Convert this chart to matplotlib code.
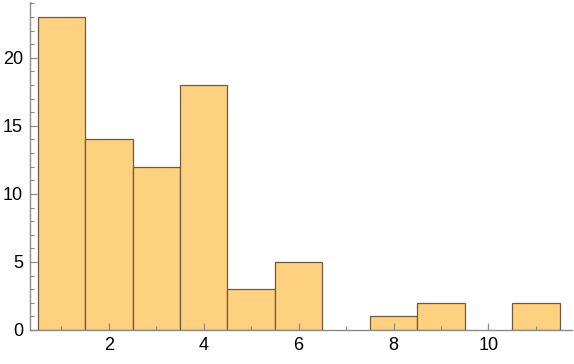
import matplotlib
matplotlib.use("Agg")
import matplotlib.pyplot as plt
from matplotlib.ticker import MultipleLocator

plt.rcParams['font.family'] = ['Liberation Sans', 'DejaVu Sans']

# histogram bins (width 1) and counts
bin_centers = [1, 2, 3, 4, 5, 6, 7, 8, 9, 10, 11]
counts = [23, 14, 12, 18, 3, 5, 0, 1, 2, 0, 2]
x_ticks = [2, 4, 6, 8, 10]
y_ticks = [0, 5, 10, 15, 20]

fig = plt.figure(figsize=(5.74, 3.64), dpi=100)
ax = fig.add_axes([30 / 574, 34 / 364, 542 / 574, 328 / 364])

xs = [c for c, n in zip(bin_centers, counts) if n > 0]
hs = [n for n in counts if n > 0]
ax.bar(xs, hs, width=1.0, color="#FDD180", edgecolor="#6E5B3F", linewidth=0.9, zorder=1)

ax.set_xlim(0.34, 11.76)
ax.set_ylim(0, 24.1)

for s in ["top", "right"]:
    ax.spines[s].set_visible(False)
for s in ["left", "bottom"]:
    ax.spines[s].set_color("#8A8A8A")
    ax.spines[s].set_linewidth(1.0)
    ax.spines[s].set_zorder(3)

ax.set_xticks(x_ticks)
ax.set_yticks(y_ticks)
ax.xaxis.set_minor_locator(MultipleLocator(1))
ax.yaxis.set_minor_locator(MultipleLocator(1))
ax.tick_params(which="major", direction="in", length=5, width=0.9, color="#8A8A8A",
               labelsize=13, pad=5)
ax.tick_params(which="minor", direction="in", length=3, width=0.8, color="#8A8A8A")
ax.tick_params(axis="y", which="major", pad=5)

fig.savefig("out.png", dpi=100)
